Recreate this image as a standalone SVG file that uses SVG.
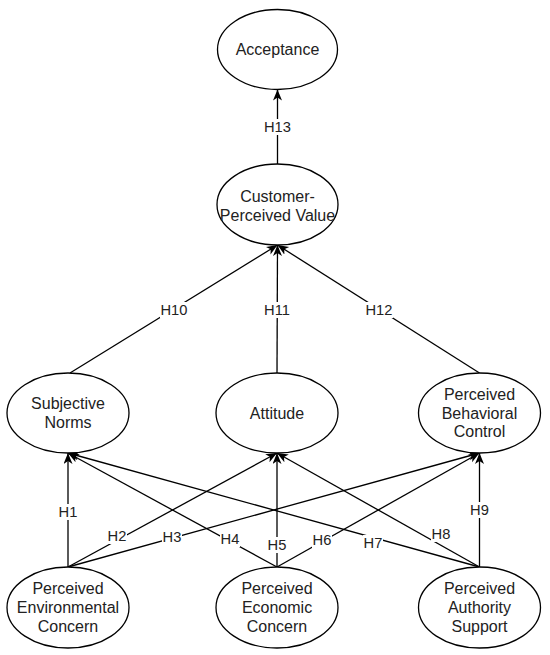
<svg xmlns="http://www.w3.org/2000/svg" width="550" height="655" viewBox="0 0 550 655">
<style>
.node ellipse{fill:#fff;stroke:#000;stroke-width:1.3}
.node text{font-family:"Liberation Sans",Arial,sans-serif;font-size:16px;fill:#222;text-anchor:middle;dominant-baseline:central}
.edge line{stroke:#000;stroke-width:1.3;marker-end:url(#arr)}
.lbl rect{fill:#fff}
.lbl text{font-family:"Liberation Sans",Arial,sans-serif;font-size:14.7px;fill:#222;text-anchor:middle;dominant-baseline:central}
</style>
<defs>
<marker id="arr" markerUnits="userSpaceOnUse" markerWidth="12" markerHeight="10" refX="11" refY="4.5" orient="auto">
<path d="M0,0 L11,4.5 L0,9 L3,4.5 z" fill="#000"/>
</marker>
</defs>
<g id="connectors">
<g class="edge">
<line x1="277.5" y1="164" x2="277.5" y2="89.5"/>
<line x1="70" y1="373" x2="277.5" y2="245"/>
<line x1="277" y1="373" x2="277.5" y2="245"/>
<line x1="479.5" y1="373" x2="277.5" y2="245"/>
<line x1="68" y1="567" x2="68" y2="453"/>
<line x1="68" y1="567" x2="277" y2="453"/>
<line x1="68" y1="567" x2="479.5" y2="453"/>
<line x1="277" y1="567" x2="68" y2="453"/>
<line x1="277" y1="567" x2="277" y2="453"/>
<line x1="277" y1="567" x2="479.5" y2="453"/>
<line x1="479.5" y1="567" x2="68" y2="453"/>
<line x1="479.5" y1="567" x2="277" y2="453"/>
<line x1="479.5" y1="567" x2="479.5" y2="453"/>
</g>
<g class="lbl">
<rect x="263.5" y="119" width="28" height="16"/><text x="277.5" y="127">H13</text>
<rect x="160" y="302" width="28" height="16"/><text x="174" y="310">H10</text>
<rect x="263" y="302" width="28" height="16"/><text x="277" y="310">H11</text>
<rect x="365" y="302" width="28" height="16"/><text x="379" y="310">H12</text>
<rect x="58" y="504" width="20" height="16"/><text x="68" y="512">H1</text>
<rect x="107" y="528" width="20" height="16"/><text x="117" y="536">H2</text>
<rect x="162" y="529" width="20" height="16"/><text x="172" y="537">H3</text>
<rect x="220" y="531" width="20" height="16"/><text x="230" y="539">H4</text>
<rect x="267" y="537" width="20" height="16"/><text x="277" y="545">H5</text>
<rect x="312" y="532" width="20" height="16"/><text x="322" y="540">H6</text>
<rect x="363" y="535" width="20" height="16"/><text x="373" y="543">H7</text>
<rect x="431" y="526" width="20" height="16"/><text x="441" y="534">H8</text>
<rect x="469.5" y="502" width="20" height="16"/><text x="479.5" y="510">H9</text>
</g>
</g>
<g id="acceptance" class="node"><ellipse cx="277.5" cy="49.5" rx="60" ry="40"/><text x="277.5" y="49.5">Acceptance</text></g>
<g id="cpv" class="node"><ellipse cx="277.5" cy="204.5" rx="60.5" ry="40.5"/><text x="277.5" y="196.5">Customer-</text><text x="277.5" y="215">Perceived Value</text></g>
<g id="subjective-norms" class="node"><ellipse cx="68" cy="413" rx="61" ry="40"/><text x="68" y="403.5">Subjective</text><text x="68" y="422.5">Norms</text></g>
<g id="attitude" class="node"><ellipse cx="277" cy="413" rx="61" ry="40"/><text x="277" y="413">Attitude</text></g>
<g id="pbc" class="node"><ellipse cx="479.5" cy="413" rx="61" ry="40"/><text x="479.5" y="394.5">Perceived</text><text x="479.5" y="413">Behavioral</text><text x="479.5" y="431.5">Control</text></g>
<g id="pec" class="node"><ellipse cx="68" cy="607.5" rx="61" ry="40.5"/><text x="68" y="588.5">Perceived</text><text x="68" y="607.5">Environmental</text><text x="68" y="626.5">Concern</text></g>
<g id="peco" class="node"><ellipse cx="277" cy="607.5" rx="61" ry="40.5"/><text x="277" y="588.5">Perceived</text><text x="277" y="607.5">Economic</text><text x="277" y="626.5">Concern</text></g>
<g id="pas" class="node"><ellipse cx="479.5" cy="607.5" rx="61" ry="40.5"/><text x="479.5" y="588.5">Perceived</text><text x="479.5" y="607.5">Authority</text><text x="479.5" y="626.5">Support</text></g>
</svg>
